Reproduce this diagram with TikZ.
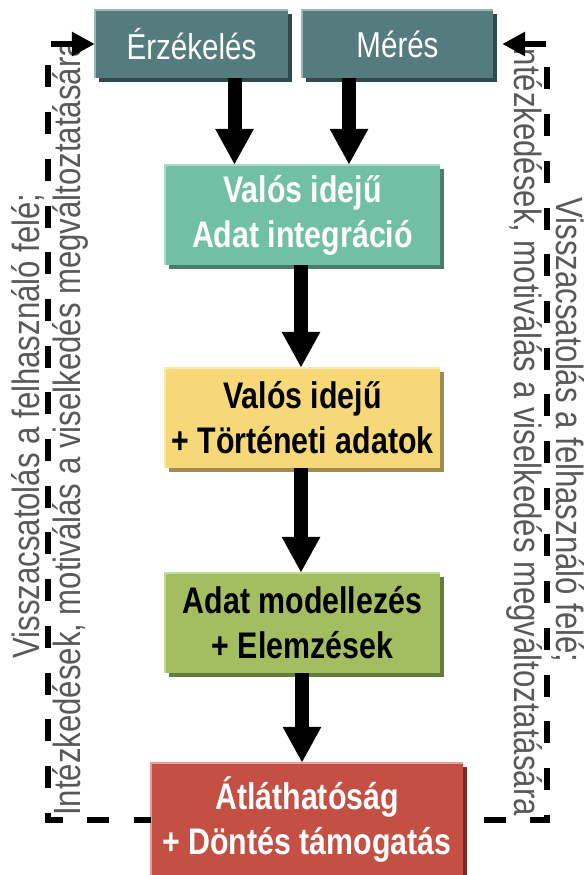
\documentclass[tikz,border=0pt]{standalone}
\usepackage{fontspec}
\setmainfont{Liberation Sans}[FakeStretch=0.82]
\usetikzlibrary{arrows.meta,shadows}
\definecolor{topfill}{HTML}{547B7D}
\definecolor{topshade}{HTML}{2F4A4B}
\definecolor{topedge}{HTML}{9DB5B6}
\definecolor{tealfill}{HTML}{71BFA4}
\definecolor{tealshade}{HTML}{4A7D6A}
\definecolor{tealedge}{HTML}{A9D9C8}
\definecolor{yelfill}{HTML}{F6D878}
\definecolor{yelshade}{HTML}{A08C50}
\definecolor{yeledge}{HTML}{FBE9B0}
\definecolor{grnfill}{HTML}{A3BE61}
\definecolor{grnshade}{HTML}{687B3C}
\definecolor{grnedge}{HTML}{C8D9A0}
\definecolor{redfill}{HTML}{C44F43}
\definecolor{redshade}{HTML}{7B2C26}
\definecolor{rededge}{HTML}{E3A09A}
\definecolor{sidegray}{HTML}{595959}
\begin{document}
\begin{tikzpicture}[x=1pt,y=1pt,
  boxbase/.style={inner sep=0pt, align=center, draw=none,
    drop shadow={shadow xshift=4pt, shadow yshift=-4pt, fill=#1, opacity=1}},
  topbox/.style={boxbase=topshade, fill=topfill, text=white,
    minimum height=68pt, font=\fontsize{36}{44}\selectfont},
  midbox/.style={boxbase=#1, minimum width=275pt, minimum height=100pt,
    font=\fontsize{37}{45}\selectfont\bfseries},
  hlline/.style={draw=#1, line width=2.5pt},
  bigarrow/.style={line width=14pt, -{Triangle[width=36pt,length=36pt]}},
  fb/.style={line width=6.5pt, dash pattern=on 22pt off 24.7pt, line join=miter,
    {Triangle[width=23pt,length=23pt]}-},
  sidetext/.style={text=sidegray, inner sep=0pt, anchor=base,
    font=\fontsize{38}{42}\selectfont}]
\useasboundingbox (0,0) rectangle (585,-875);

% side texts
\node[sidetext, rotate=90] (fbL1) at (39,-426) {Visszacsatolás a felhasználó felé;};
\node[sidetext, rotate=90] (fbL2) at (80,-428) {Intézkedések, motiválás a viselkedés megváltoztatására};
\node[sidetext, rotate=-90] (fbR1) at (556,-430) {Visszacsatolás a felhasználó felé;};
\node[sidetext, rotate=-90] (fbR2) at (514,-428) {Intézkedések, motiválás a viselkedés megváltoztatására};

% boxes
\node[topbox, minimum width=193pt] (erz) at (191.5,-44) {Érzékelés};
\node[topbox, minimum width=191pt] (mer) at (397.5,-44) {Mérés};
\node[midbox=tealshade, fill=tealfill, text=white] (integ) at (302.5,-215) {Valós idejű\\Adat integráció};
\node[midbox=yelshade, fill=yelfill, text=black] (hist) at (302.5,-418) {Valós idejű\\+ Történeti adatok};
\node[midbox=grnshade, fill=grnfill, text=black] (model) at (302.5,-623) {Adat modellezés\\+ Elemzések};
\node[midbox=redshade, fill=redfill, text=white, minimum width=312pt, minimum height=114pt] (dec) at (307,-820) {Átláthatóság\\+ Döntés támogatás};

% highlight edges
\draw[hlline=topedge] (erz.south west) -- (erz.north west) -- (erz.north east);
\draw[hlline=topedge] (mer.south west) -- (mer.north west) -- (mer.north east);
\draw[hlline=tealedge] (integ.south west) -- (integ.north west) -- (integ.north east);
\draw[hlline=yeledge] (hist.south west) -- (hist.north west) -- (hist.north east);
\draw[hlline=grnedge] (model.south west) -- (model.north west) -- (model.north east);
\draw[hlline=rededge] (dec.south west) -- (dec.north west) -- (dec.north east);

% main arrows
\draw[bigarrow] ([xshift=43pt]erz.south) -- ([xshift=43pt]erz.south |- integ.north);
\draw[bigarrow] ([xshift=-48.5pt]mer.south) -- ([xshift=-48.5pt]mer.south |- integ.north);
\draw[bigarrow] ([xshift=-1.5pt]integ.south) -- ([xshift=-1.5pt]integ.south |- hist.north);
\draw[bigarrow] ([xshift=-1.5pt]hist.south) -- ([xshift=-1.5pt]hist.south |- model.north);
\draw[bigarrow] ([xshift=-0.5pt]model.south) -- ([xshift=-0.5pt]model.south |- dec.north);

% feedback loops
\coordinate (cLT) at (48,-44);
\coordinate (cLB) at (48,-820);
\coordinate (cRT) at (547,-44);
\coordinate (cRB) at (547,-820);
\draw[fb] (erz.west) -- (cLT) -- (cLB) -- (dec.west);
\draw[fb] ([xshift=9pt]mer.east) -- (cRT) -- (cRB) -- (dec.east);
\end{tikzpicture}
\end{document}
